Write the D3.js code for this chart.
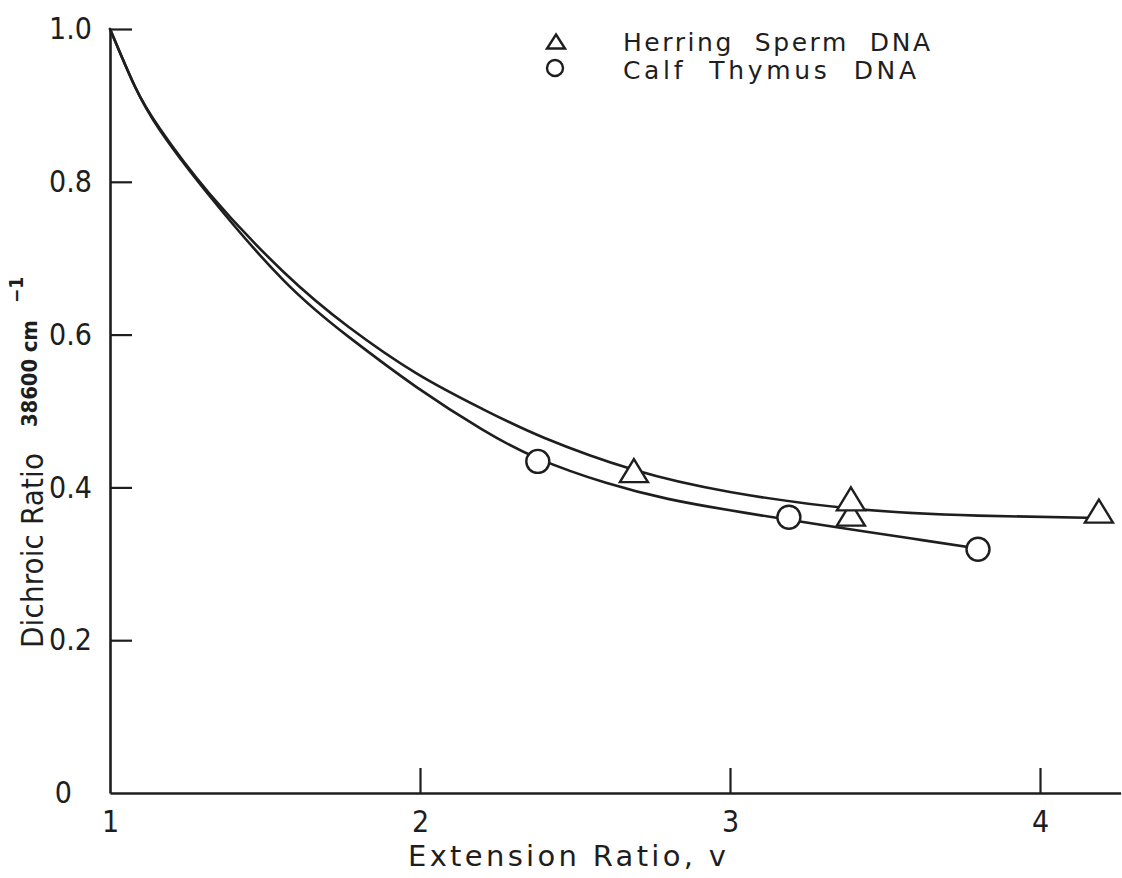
<!DOCTYPE html>
<html>
<head>
<meta charset="utf-8">
<script src="https://cdn.jsdelivr.net/npm/d3@7"></script>
<style>
  html, body { margin: 0; background: #fff; }
  svg { display: block; }
  text { font-family: "DejaVu Sans Condensed", "DejaVu Sans", sans-serif; fill: #1e1e1e; }
  text.wide { font-family: "DejaVu Sans", sans-serif; }
</style>
</head>
<body>
<svg id="chart" width="1122" height="878"></svg>
<script>
// Herring sperm DNA: measured dichroic ratios (triangles)
const herringPoints = [[2.69, 0.422], [3.39, 0.365], [3.39, 0.385], [4.19, 0.369]];
// Herring sperm DNA: drawn trend curve
const herringCurve = [
  [1.00, 1.000], [1.08, 0.925], [1.16, 0.870], [1.32, 0.785], [1.56, 0.682],
  [1.77, 0.610], [1.99, 0.549], [2.20, 0.503], [2.40, 0.465], [2.69, 0.423],
  [3.00, 0.394], [3.40, 0.372], [3.80, 0.363], [4.19, 0.360]
];
// Calf thymus DNA: measured dichroic ratios (circles)
const calfPoints = [[2.38, 0.434], [3.19, 0.361], [3.80, 0.319]];
// Calf thymus DNA: drawn trend curve
const calfCurve = [
  [1.00, 1.000], [1.08, 0.925], [1.16, 0.868], [1.32, 0.782], [1.56, 0.671],
  [1.77, 0.597], [1.99, 0.531], [2.20, 0.476], [2.38, 0.438], [2.60, 0.406],
  [2.80, 0.385], [3.00, 0.370], [3.20, 0.357], [3.44, 0.342], [3.62, 0.331], [3.80, 0.320]
];
// Axis ticks
const xTickValues = [1, 2, 3, 4];
const xTickLabels = ["1", "2", "3", "4"];
const yTickValues = [0, 0.2, 0.4, 0.6, 0.8, 1.0];
const yTickLabels = ["0", "0.2", "0.4", "0.6", "0.8", "1.0"];
// Legend entries
const legendLabels = ["Herring  Sperm  DNA", "Calf  Thymus  DNA"];

const ink = "#1e1e1e";
const svg = d3.select("#chart");

const x = d3.scaleLinear().domain([1, 4.26]).range([110, 1120.6]);
const y = d3.scaleLinear().domain([0, 1]).range([793, 29]);

// x axis: ticks point up into the plot
const gx = svg.append("g")
  .attr("transform", `translate(0,${y(0)})`)
  .call(d3.axisBottom(x)
    .tickValues(xTickValues)
    .tickSizeInner(-25)
    .tickSizeOuter(0)
    .tickPadding(18)
    .tickFormat((d, i) => xTickLabels[i]));
gx.select(".domain").attr("stroke", ink).attr("stroke-width", 2.6);
gx.selectAll(".tick line").attr("stroke", ink).attr("stroke-width", 2.2)
  .filter(d => d === 1).remove();
gx.selectAll(".tick text").attr("font-size", 30).attr("fill", ink)
  .attr("font-family", '"DejaVu Sans Condensed", "DejaVu Sans", sans-serif');

// y axis: ticks point right into the plot
const gy = svg.append("g")
  .attr("transform", `translate(${x(1)},0)`)
  .call(d3.axisLeft(y)
    .tickValues(yTickValues)
    .tickSizeInner(-22)
    .tickSizeOuter(0)
    .tickPadding(18)
    .tickFormat((d, i) => yTickLabels[i]));
gy.select(".domain").attr("stroke", ink).attr("stroke-width", 2.6);
gy.selectAll(".tick line").attr("stroke", ink).attr("stroke-width", 2.2)
  .filter(d => d === 0).remove();
gy.selectAll(".tick text").attr("font-size", 30).attr("fill", ink)
  .attr("font-family", '"DejaVu Sans Condensed", "DejaVu Sans", sans-serif')
  .attr("dx", d => d === 0 ? -20 : 0);

// trend curves
const line = d3.line().x(d => x(d[0])).y(d => y(d[1])).curve(d3.curveNatural);
[herringCurve, calfCurve].forEach(c => {
  svg.append("path").datum(c)
    .attr("d", line)
    .attr("fill", "none")
    .attr("stroke", ink)
    .attr("stroke-width", 2.6)
    .attr("stroke-linecap", "round");
});

// marker shapes
const triPath = (w, h) => `M0,${-h / 2}L${w / 2},${h / 2}L${-w / 2},${h / 2}Z`;

svg.append("g").selectAll("circle").data(calfPoints).join("circle")
  .attr("cx", d => x(d[0])).attr("cy", d => y(d[1])).attr("r", 11.5)
  .attr("fill", "#fff").attr("stroke", ink).attr("stroke-width", 2.4);

svg.append("g").selectAll("path").data(herringPoints).join("path")
  .attr("transform", d => `translate(${x(d[0])},${y(d[1])})`)
  .attr("d", triPath(28, 23))
  .attr("fill", "#fff").attr("stroke", ink).attr("stroke-width", 2.4)
  .attr("stroke-linejoin", "miter");

// legend
const legend = svg.append("g");
legend.append("path")
  .attr("transform", "translate(556,41.5)")
  .attr("d", triPath(18, 14))
  .attr("fill", "#fff").attr("stroke", ink).attr("stroke-width", 2.4);
legend.append("circle")
  .attr("cx", 555).attr("cy", 68).attr("r", 8)
  .attr("fill", "#fff").attr("stroke", ink).attr("stroke-width", 2.4);
legend.selectAll("text").data(legendLabels).join("text")
  .attr("class", "wide")
  .attr("x", 623).attr("y", (d, i) => 51 + i * 28)
  .attr("font-size", 25)
  .attr("textLength", (d, i) => i === 0 ? 307 : 293)
  .attr("lengthAdjust", "spacing")
  .style("white-space", "pre")
  .text(d => d);

// axis titles
svg.append("text")
  .attr("class", "wide")
  .attr("x", 408).attr("y", 866)
  .attr("font-size", 29)
  .attr("textLength", 318).attr("lengthAdjust", "spacing")
  .text("Extension Ratio, v");

svg.append("text")
  .attr("transform", "translate(43,648) rotate(-90)")
  .attr("font-size", 31)
  .attr("textLength", 195).attr("lengthAdjust", "spacing")
  .text("Dichroic Ratio");

svg.append("text")
  .attr("transform", "translate(37,427) rotate(-90)")
  .attr("font-size", 22).attr("font-weight", "bold")
  .attr("textLength", 107).attr("lengthAdjust", "spacing")
  .text("38600 cm");

svg.append("text")
  .attr("transform", "translate(23,303) rotate(-90)")
  .attr("font-size", 19).attr("font-weight", "bold")
  .text("\u22121");
</script>
</body>
</html>
